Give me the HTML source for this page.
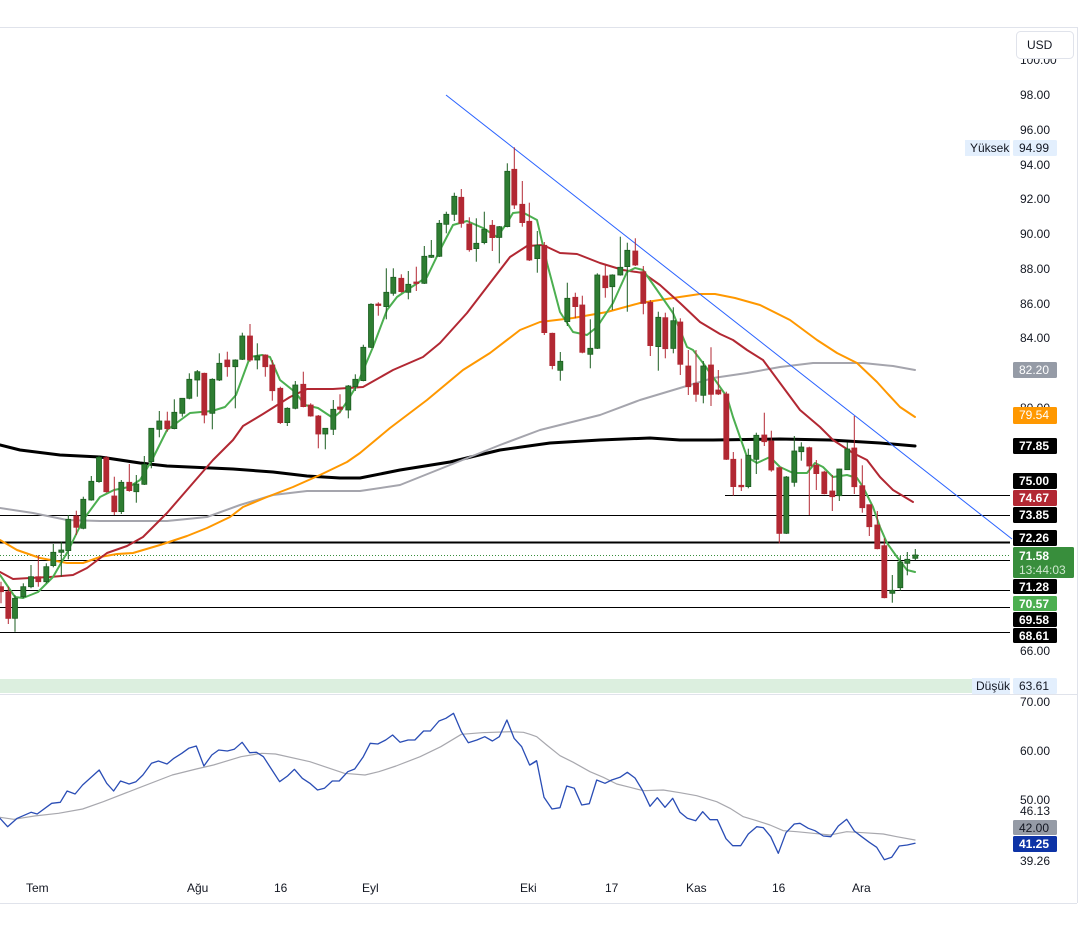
<!DOCTYPE html>
<html><head><meta charset="utf-8">
<style>
html,body{margin:0;padding:0;background:#fff;width:1087px;height:939px;overflow:hidden;font-family:"Liberation Sans",sans-serif;}
svg text{font-family:"Liberation Sans",sans-serif;}
</style></head>
<body>
<svg id="c" width="1087" height="939" xmlns="http://www.w3.org/2000/svg">
<rect x="0" y="0" width="1087" height="939" fill="#fff"/>
<line x1="0" y1="27.5" x2="1077" y2="27.5" stroke="#e0e3eb"/>
<line x1="1077.5" y1="27" x2="1077.5" y2="903" stroke="#e0e3eb"/>
<line x1="0" y1="903.5" x2="1077" y2="903.5" stroke="#e0e3eb"/>
<line x1="0" y1="694.5" x2="1077" y2="694.5" stroke="#e0e3eb"/>
<rect x="0" y="679" width="1010" height="14" fill="#dcefdf"/>
<g id="g"></g>
</svg>
<script>
var out=[];
function P(pts,ox,oy,sx,sy){return pts.map(function(p){return (ox+p[0]/sx).toFixed(1)+','+(oy+p[1]/sy).toFixed(1)}).join(' ');}
function pl(s,col,w,extra){out.push('<polyline points="'+s+'" fill="none" stroke="'+col+'" stroke-width="'+w+'" stroke-linejoin="round" stroke-linecap="round" '+(extra||'')+'/>');}
function R(pts){return pts.map(function(p){return p[0]+','+p[1]}).join(' ');}
[[515,1],[560,1],[590,1],[607,1],[632,1]].forEach(function(l){out.push('<line x1="0" y1="'+(l[0]+.5)+'" x2="1010" y2="'+(l[0]+.5)+'" stroke="#000" stroke-width="1"/>');});
out.push('<line x1="725" y1="495.5" x2="1010" y2="495.5" stroke="#000" stroke-width="1"/>');
out.push('<line x1="0" y1="542.5" x2="1010" y2="542.5" stroke="#000" stroke-width="2"/>');
out.push('<line x1="0" y1="555.5" x2="1010" y2="555.5" stroke="#388e3c" stroke-width="1" stroke-dasharray="1,2"/>');
pl(R([[0,445],[20,450],[60,455],[100,457],[140,463],[167,466],[233,469],[273,472],[307,476],[340,478],[360,478],[400,470],[450,462],[500,450],[550,443],[600,440],[650,438],[680,440],[713,440],[780,439],[830,440],[880,443],[915,446]]),'#000',3);
pl(R([[0,508],[33,513],[67,520],[100,521],[167,521],[207,517],[240,505],[273,495],[307,491],[360,491],[400,485],[450,465],[500,445],[540,430],[600,415],[640,400],[680,388],[713,378],[747,373],[780,367],[813,363],[863,363],[893,366],[915,370]]),'#a5a5ad',2);
pl(R([[0,540],[17,550],[40,558],[67,563],[83,563],[100,557],[117,554],[133,553],[160,545],[187,536],[207,528],[230,517],[243,507],[267,497],[293,487],[320,475],[347,462],[360,453],[390,428],[427,400],[463,370],[490,353],[520,330],[540,322],[573,318],[607,312],[640,303],[673,298],[700,294],[715,294],[735,298],[760,305],[790,320],[817,340],[837,353],[857,363],[877,382],[887,393],[900,407],[915,417]]),'#ff9800',2);
pl(R([[0,572],[13,579],[30,578],[50,577],[73,575],[87,568],[107,553],[127,546],[143,537],[167,513],[193,483],[213,460],[233,440],[243,426],[263,414],[290,397],[307,389],[333,389],[363,387],[393,370],[423,357],[440,343],[467,313],[490,283],[510,257],[527,246],[543,245],[560,253],[577,254],[600,263],[623,270],[643,273],[660,285],[680,303],[700,322],[720,334],[733,340],[747,350],[763,360],[780,383],[800,410],[820,427],[833,440],[853,453],[867,460],[880,477],[893,490],[913,502]]),'#b22833',2);
pl(R([[0,575],[15,597],[23,598],[38,592],[53,577],[68,551],[83,520],[100,497],[114,490],[129,487],[140,480],[152,460],[167,430],[190,413],[212,411],[225,407],[236,395],[250,357],[262,355],[270,357],[280,380],[295,392],[305,405],[318,408],[333,418],[340,412],[348,400],[357,385],[373,347],[387,310],[397,297],[410,288],[427,277],[440,250],[453,225],[467,221],[483,228],[497,237],[507,223],[513,213],[522,212],[537,220],[547,263],[560,312],[573,332],[587,335],[597,327],[613,303],[627,272],[635,268],[643,270],[657,290],[673,313],[687,347],[693,350],[703,363],[713,377],[727,397],[733,417],[740,437],[747,457],[757,463],[770,457],[780,467],[793,473],[807,473],[815,463],[823,467],[833,477],[847,475],[857,478],[863,487],[873,507],[880,527],[887,543],[897,557],[907,570],[915,572]]),'#4caf50',2);
out.push('<line x1="446" y1="95" x2="1012" y2="539" stroke="#2962ff" stroke-width="1"/>');
var Z3=[[3,800,815,'r',785,850],[25,815,895,'r',800,912],[45,835,895,'g',825,935],[70,800,830,'g',790,835],[93,770,800,'g',735,805],[115,770,785,'r',705,800],[139,740,785,'g',730,790],[160,697,737,'g',672,742],[184,690,697,'g',665,770],[205,598,692,'g',585,718],[229,588,622,'r',572,645],[250,538,625,'g',530,628],[274,484,540,'g',468,542],[297,412,485,'g',408,488],[319,413,515,'r',408,518],[343,528,575,'r',470,585],[364,487,575,'g',480,582],[388,487,512,'r',432,515],[409,492,515,'g',465,548],[433,433,493,'g',408,495],[454,325,425,'g',325,445],[478,303,328,'g',273,352],[502,303,326,'r',275,335],[523,277,326,'g',238,328],[547,235,280,'g',235,290],[568,178,235,'g',160,238],[592,155,180,'g',150,230],[613,160,285,'r',158,310],[637,178,280,'g',175,328],[658,130,180,'g',100,183],[682,120,140,'r',95,170],[706,120,140,'g',118,265],[727,48,118,'g',38,120],[750,48,120,'r',12,125],[772,108,120,'g',70,148],[796,105,140,'r',103,170],[817,135,212,'r',120,242],[841,205,308,'r',200,312],[862,265,308,'g',262,318],[886,195,265,'g',183,268],[910,193,260,'r',155,262],[932,255,288,'r',250,290],[955,288,342,'r',285,385],[976,325,342,'g',325,388],[1000,268,328,'g',240,345],[1020,261,268,'r',223,280],[1045,198,270,'g',195,295],[1066,178,200,'g',163,213]];
var Z4=[[70,622,722,'g',614,724],[93,493,622,'g',490,624],[115,492,496,'r',487,527],[139,457,500,'g',385,538],[160,412,460,'g',385,467],[184,415,455,'r',403,458],[205,433,457,'g',393,478],[229,426,429,'r',380,453],[253,349,430,'g',318,432],[274,346,352,'g',300,354],[298,250,349,'g',240,351],[319,223,253,'g',215,280],[343,169,223,'g',158,243],[364,172,250,'r',147,263],[388,252,329,'r',232,335],[409,310,326,'g',235,365],[433,268,308,'g',215,313],[457,256,293,'r',240,333],[478,260,292,'g',258,370],[502,94,260,'g',70,262],[523,88,195,'r',22,207],[547,193,248,'r',123,260],[568,244,360,'r',188,363],[592,316,356,'g',273,398],[613,316,578,'r',306,585],[637,580,677,'r',578,688],[661,664,691,'g',636,722],[682,475,545,'g',428,558],[706,472,500,'r',458,535],[727,495,637,'r',467,640],[751,625,643,'g',538,685],[772,405,625,'g',400,627],[796,408,443,'r',373,473],[817,405,440,'g',403,510],[841,382,405,'g',290,407],[862,331,380,'g',308,515],[886,333,375,'r',295,378],[910,395,490,'r',378,523],[931,487,617,'r',480,648],[955,532,620,'g',515,692],[976,533,626,'r',518,655],[1000,542,625,'g',502,640],[1021,546,673,'r',535,705]];
var Z5=[[25,78,140,'r',30,165],[48,130,163,'r',30,185],[70,78,166,'g',63,190],[93,75,163,'r',22,198],[115,150,162,'r',90,165],[139,162,358,'r',155,360],[160,358,440,'r',336,467],[184,436,440,'r',356,453],[205,346,440,'g',326,445],[229,286,358,'g',278,402],[253,285,305,'r',218,318],[274,303,390,'r',272,395],[298,383,580,'r',380,610],[319,411,580,'g',408,582],[343,333,427,'g',288,440],[364,321,335,'g',307,362],[388,323,378,'r',320,525],[409,376,401,'r',360,450],[433,396,461,'r',392,463],[457,453,470,'r',405,513],[478,387,467,'g',386,483],[502,327,389,'g',307,390],[523,324,440,'r',228,462],[547,437,503,'r',376,518],[568,494,560,'r',494,588],[592,555,626,'r',513,628],[613,617,773,'r',595,775],[637,751,760,'g',705,788],[661,666,743,'g',648,752],[682,658,670,'g',636,706],[706,645,655,'g',627,660]];
function C(arr,ox,oy){arr.forEach(function(c){var x=ox+c[0]/3,bt=oy+c[1]/3,bb=oy+c[2]/3,wt=oy+c[4]/3,wb=oy+c[5]/3;
var f=c[3]=='g'?'#2e7d32':'#b22833',s=c[3]=='g'?'#1b5e20':'#b22833';
if(bb-bt<1.5){bb=bt+1.5;}
out.push('<line x1="'+x.toFixed(1)+'" y1="'+wt.toFixed(1)+'" x2="'+x.toFixed(1)+'" y2="'+wb.toFixed(1)+'" stroke="'+s+'" stroke-width="1"/>');
out.push('<rect x="'+(x-2.5).toFixed(1)+'" y="'+bt.toFixed(1)+'" width="5" height="'+(bb-bt).toFixed(1)+'" fill="'+f+'" stroke="'+s+'" stroke-width="0.8"/>');});}
C(Z3,0,320);C(Z4,340,140);C(Z5,680,340);
var B6=[[0,385],[22,410],[50,385],[90,367],[108,372],[150,340],[175,337],[195,303],[218,312],[240,285],[288,240],[310,280],[330,303],[350,273],[375,282],[395,275],[415,255],[440,220],[460,213],[485,222],[505,205],[528,190],[548,175],[570,168],[592,228],[615,195],[635,180],[660,183],[680,178],[703,157],[725,188],[745,187],[765,200],[790,240],[812,275],[835,258],[855,238],[878,265],[900,280],[922,300],[942,295],[965,273],[985,273],[1010,245],[1030,237],[1055,200],[1075,160],[1097,162],[1120,150],[1140,135],[1162,157],[1185,150],[1205,150],[1230,123],[1250,123],[1275,93],[1295,85],[1317,70],[1340,125],[1360,158],[1385,150],[1408,140],[1430,153],[1450,140],[1472,90],[1493,145],[1515,170],[1538,225],[1558,212]];
var G6=[[0,382],[40,388],[100,378],[170,370],[240,357],[300,335],[400,295],[500,255],[570,237],[620,225],[700,200],[760,190],[800,192],[900,215],[1000,250],[1060,255],[1100,245],[1150,228],[1220,200],[1280,170],[1340,133],[1400,128],[1480,125],[1520,127]];
var B7=[[0,195],[20,183],[42,292],[66,327],[90,323],[110,258],[133,265],[155,315],[178,311],[200,240],[225,250],[245,240],[270,232],[292,217],[315,234],[337,270],[360,319],[382,293],[405,322],[428,295],[450,337],[472,355],[497,362],[518,335],[540,359],[562,359],[588,416],[608,437],[632,437],[655,402],[680,380],[700,383],[722,410],[745,460],[768,398],[793,372],[810,370],[835,385],[855,392],[880,408],[902,410],[925,378],[950,358],[973,393],[995,410],[1018,427],[1040,442],[1063,479],[1085,472],[1108,438],[1132,435],[1155,430]];
var G7=[[0,103],[20,110],[50,135],[90,167],[130,187],[180,215],[220,232],[260,252],[300,262],[340,272],[400,270],[450,278],[500,287],[560,305],[600,325],[640,350],[680,362],[720,375],[760,392],[800,395],[850,400],[900,405],[950,395],[1000,398],[1060,402],[1100,410],[1155,420]];
pl(P(G6,0,690,2.904,3)+' '+P(G7,530,700,3,3),'#a8a8ae',1.2);
pl(P(B6,0,690,2.904,3)+' '+P(B7,530,700,3,3),'#2a4db5',1.3);
function T(x,y,s,col,extra){out.push('<text x="'+x+'" y="'+y+'" font-size="12" fill="'+(col||'#131722')+'" '+(extra||'')+'>'+s+'</text>');}
[['98.00',95],['96.00',130],['94.00',165],['92.00',199],['90.00',234],['88.00',269],['86.00',304],['84.00',338],['80.00',408],['66.00',651],['70.00',702],['60.00',751],['50.00',800],['46.13',811],['39.26',861]].forEach(function(a){T(1020,a[1]+4,a[0]);});
T(1020,64,'100.00');
out.push('<rect x="1016.5" y="31.5" width="57" height="27" rx="4" fill="#fff" stroke="#e0e3eb"/>');
T(1027,49,'USD');
function L(y,h,bg,txt,col,bold){out.push('<rect x="1013" y="'+y+'" width="44" height="'+h+'" rx="1.5" fill="'+bg+'"/>');T(1019,y+12,txt,col,bold?'font-weight="bold"':'');}
L(140,16,'#e3effd','94.99','#131722');
out.push('<rect x="965" y="140" width="45" height="16" fill="#e3effd"/>');T(970,152,'Yüksek');
L(678,16,'#e3effd','63.61','#131722');
out.push('<rect x="972" y="678" width="38" height="16" fill="#e3effd"/>');T(976,690,'Düşük');
L(362,16,'#959ba6','82.20','#fff');
L(407,17,'#ff9800','79.54','#fff');
L(438,16,'#000','77.85','#fff',1);
L(473,16,'#000','75.00','#fff',1);
L(490,16,'#b22833','74.67','#fff',1);
L(507,16,'#000','73.85','#fff',1);
L(530,16,'#000','72.26','#fff',1);
out.push('<rect x="1013" y="547" width="61" height="31" rx="1.5" fill="#388e3c"/>');
T(1019,560,'71.58','#fff','font-weight="bold"');T(1019,574,'13:44:03','#cfe8d0');
L(579,15,'#000','71.28','#fff',1);
L(596,15,'#4caf50','70.57','#fff',1);
L(612,15,'#000','69.58','#fff',1);
L(628,15,'#000','68.61','#fff',1);
L(820,15,'#959ba6','42.00','#131722');
L(836,16,'#0d33a6','41.25','#fff',1);
[['Tem',26],['Ağu',187],['16',274],['Eyl',362],['Eki',520],['17',605],['Kas',686],['16',772],['Ara',852]].forEach(function(a){T(a[1],892,a[0]);});
document.getElementById('g').innerHTML=out.join('');
</script>
</body></html>
